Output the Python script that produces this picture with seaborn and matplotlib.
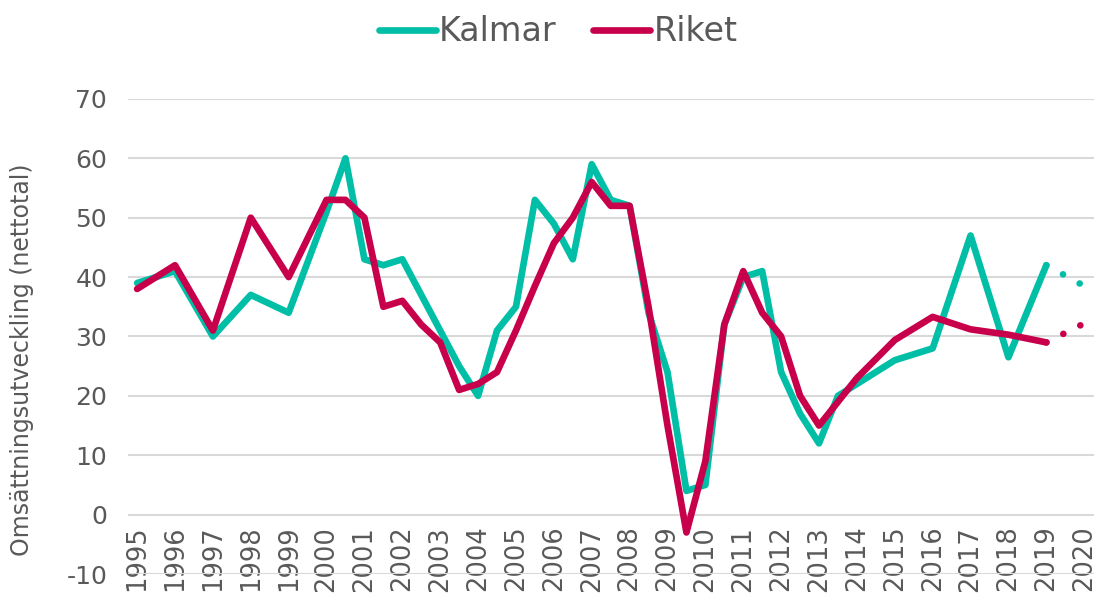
import pandas as pd
import matplotlib
matplotlib.use("Agg")
import matplotlib.pyplot as plt
import seaborn as sns

# values (half-year steps where the line bends)
kalmar_years = [1995, 1996, 1997, 1998, 1999, 2000, 2000.5, 2001, 2001.5, 2002,
                2002.5, 2003, 2003.5, 2004, 2004.5, 2005, 2005.5, 2006, 2006.5,
                2007, 2007.5, 2008, 2008.5, 2009, 2009.5, 2010, 2010.5, 2011,
                2011.5, 2012, 2012.5, 2013, 2013.5, 2014, 2015, 2016, 2017,
                2018, 2019]
kalmar_values = [39, 41, 30, 37, 34, 51, 60, 43, 42, 43,
                 37, 31, 25, 20, 31, 35, 53, 49, 43,
                 59, 53, 52, 34, 24, 4, 5, 32, 40,
                 41, 24, 17, 12, 20, 22, 26, 28, 47,
                 26.5, 42]

riket_years = [1995, 1996, 1997, 1998, 1999, 2000, 2000.5, 2001, 2001.5, 2002,
               2002.5, 2003, 2003.5, 2004, 2004.5, 2005, 2005.5, 2006, 2006.5,
               2007, 2007.5, 2008, 2008.5, 2009, 2009.5, 2010, 2010.5, 2011,
               2011.5, 2012, 2012.5, 2013, 2014, 2015, 2016, 2017, 2018, 2019]
riket_values = [38, 42, 31, 50, 40, 53, 53, 50, 35, 36,
                32, 29, 21, 22, 24, 31, 38.5, 45.7, 50,
                56, 52, 52, 35, 15, -3, 9, 32, 41,
                34, 30, 20, 15, 23, 29.4, 33.3, 31.2, 30.3, 29]

# forecast part (dotted)
prog_years = [2019, 2020]
kalmar_prog = [42, 38.5]
riket_prog = [29, 32.2]

tick_years = list(range(1995, 2021))

teal = "#00BFA6"
crimson = "#C8004B"
grey = "#595959"

df = pd.concat([
    pd.DataFrame({"År": kalmar_years, "Värde": kalmar_values, "Område": "Kalmar"}),
    pd.DataFrame({"År": riket_years, "Värde": riket_values, "Område": "Riket"}),
])
df_prog = pd.concat([
    pd.DataFrame({"År": prog_years, "Värde": kalmar_prog, "Område": "Kalmar"}),
    pd.DataFrame({"År": prog_years, "Värde": riket_prog, "Område": "Riket"}),
])

sns.set_theme(style="white")
plt.rcParams["font.family"] = ["DejaVu Sans"]
plt.rcParams["axes.unicode_minus"] = False

fig = plt.figure(figsize=(10.99, 6.01), dpi=100)
ax = fig.add_axes([0.1165, 0.0449, 0.879, 0.7905])

palette = {"Kalmar": teal, "Riket": crimson}
sns.lineplot(data=df, x="År", y="Värde", hue="Område", palette=palette,
             sort=False, estimator=None, linewidth=4.8, ax=ax,
             solid_joinstyle="round", solid_capstyle="round")
sns.lineplot(data=df_prog, x="År", y="Värde", hue="Område", palette=palette,
             sort=False, estimator=None, linewidth=4.8, ax=ax, legend=False,
             linestyle=(0, (0.01, 2.84)), dash_capstyle="round")

ax.set_xlim(1994.76, 2020.26)
ax.set_ylim(-10, 70)
ax.set_yticks(range(-10, 71, 10))
ax.yaxis.grid(True, color="#D9D9D9", linewidth=1.5)
ax.set_axisbelow(True)
for s in ["top", "right", "left"]:
    ax.spines[s].set_visible(False)
ax.spines["bottom"].set_position(("data", 0))
ax.spines["bottom"].set_visible(False)

ax.set_xticks(tick_years)
ax.set_xticklabels([str(y) for y in tick_years], rotation=90, va="top")
ax.tick_params(axis="x", length=0, pad=8, labelsize=18.5, labelcolor=grey)
ax.tick_params(axis="y", length=0, pad=15, labelsize=18, labelcolor=grey)

ax.set_xlabel("")
ax.set_ylabel("Omsättningsutveckling (nettotal)", fontsize=17, color=grey)
ax.yaxis.set_label_coords(-0.097, 0.45)

ax.get_legend().remove()
handles, labels = ax.get_legend_handles_labels()
fig.legend(handles[:2], labels[:2], loc="center", bbox_to_anchor=(0.508, 0.947),
           ncol=2, frameon=False, fontsize=24, labelcolor=grey,
           handlelength=1.7, handletextpad=0.1, columnspacing=1.1)

fig.savefig("out.png", dpi=100)
